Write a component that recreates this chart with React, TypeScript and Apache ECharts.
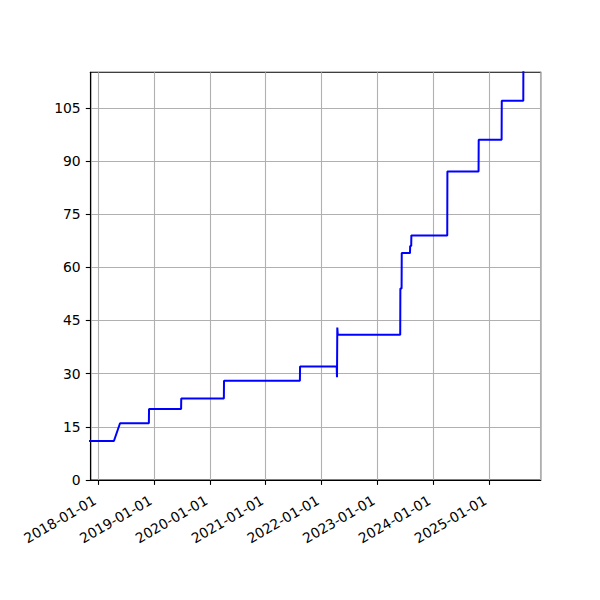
import React, { useEffect, useRef } from "react";
import * as echarts from "echarts";

const stepDates: string[] = [
  "2017-11-01", "2018-04-13", "2018-05-23", "2018-11-28", "2018-11-29",
  "2019-06-27", "2019-06-28", "2020-04-02", "2020-04-03", "2021-08-13",
  "2021-08-14", "2022-04-11", "2022-04-13", "2022-04-15", "2022-04-18",
  "2023-06-01", "2023-06-02", "2023-06-10", "2023-06-11", "2023-08-04",
  "2023-08-05", "2023-08-12", "2023-08-13", "2024-04-04", "2024-04-05",
  "2024-10-26", "2024-10-27", "2025-03-26", "2025-03-27", "2025-08-15",
  "2025-08-16",
];
const stepValues: number[] = [
  11, 11, 16, 16, 20,
  20, 23, 23, 28, 28,
  32, 32, 29, 43, 41,
  41, 54, 54, 64, 64,
  66, 66, 69, 69, 87,
  87, 96, 96, 107, 107,
  125,
];
const yTicks: number[] = [0, 15, 30, 45, 60, 75, 90, 105];
const xMin = "2017-11-12";
const xMax = "2025-12-07";
const yMax = 115;

const ts = (s: string) => {
  const [y, m, d] = s.split("-").map(Number);
  return new Date(y, m - 1, d).getTime();
};

export default function App() {
  const ref = useRef<HTMLDivElement>(null);
  useEffect(() => {
    document.body.style.margin = "0";
    if (!ref.current) return;
    const chart = echarts.init(ref.current, null, { renderer: "svg" });
    const font = "DejaVu Sans";
    chart.setOption({
      animation: false,
      backgroundColor: "#ffffff",
      grid: {
        left: 90.7,
        right: 59.3,
        top: 72.3,
        bottom: 120,
        show: true,
        borderColor: "#000",
        borderWidth: 1.1,
        backgroundColor: "transparent",
        outerBoundsMode: "none",
        containLabel: false,
      },
      xAxis: {
        type: "time",
        min: ts(xMin),
        max: ts(xMax),
        splitNumber: 8,
        minInterval: 365 * 24 * 3600 * 1000,
        maxInterval: 366 * 24 * 3600 * 1000,
        axisLine: { show: true, lineStyle: { color: "#000", width: 1.1 } },
        axisTick: {
          show: true,
          inside: false,
          length: 4.9,
          lineStyle: { color: "#000", width: 1.1 },
        },
        axisLabel: {
          rotate: 30,
          margin: 17,
          padding: [0, 4, 0, 0],
          color: "#000",
          fontFamily: font,
          fontSize: 13.9,
          showMinLabel: false,
          showMaxLabel: false,
          formatter: (v: number) => {
            const d = new Date(v);
            const p = (n: number) => String(n).padStart(2, "0");
            return `${d.getFullYear()}-${p(d.getMonth() + 1)}-${p(d.getDate())}`;
          },
        },
        splitLine: {
          show: true,
          lineStyle: { color: "#b0b0b0", width: 1.1 },
        },
      },
      yAxis: {
        type: "value",
        min: 0,
        max: yMax,
        interval: 15,
        axisLine: { show: true, lineStyle: { color: "#000", width: 1.1 } },
        axisTick: {
          show: true,
          inside: false,
          length: 4.9,
          lineStyle: { color: "#000", width: 1.1 },
          customValues: yTicks,
        },
        axisLabel: {
          customValues: yTicks,
          margin: 10,
          color: "#000",
          fontFamily: font,
          fontSize: 13.9,
        },
        splitLine: { show: true, lineStyle: { color: "#b0b0b0", width: 1.1 } },
      },
      series: [
        {
          type: "line",
          data: stepDates.map((d, i) => [ts(d), stepValues[i]]),
          showSymbol: false,
          symbol: "none",
          clip: true,
          lineStyle: { color: "#0000ff", width: 2 },
        },
      ],
    });
    return () => chart.dispose();
  }, []);
  return <div ref={ref} style={{ width: 600, height: 600 }} />;
}
